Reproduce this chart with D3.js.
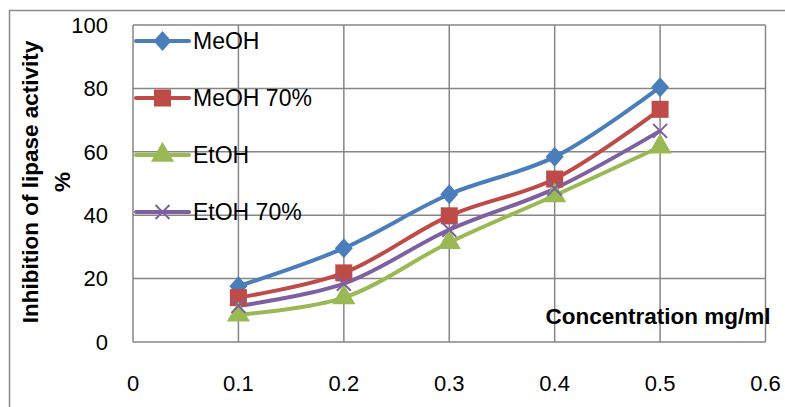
<!DOCTYPE html>
<html>
<head>
<meta charset="utf-8">
<script src="https://cdn.jsdelivr.net/npm/d3@7"></script>
<style>
  body { margin: 0; background: #fff; }
  text { font-family: "Liberation Sans", Arial, sans-serif; }
</style>
</head>
<body>
<div id="chart"></div>
<script>
// data
const concentrations = [0.1, 0.2, 0.3, 0.4, 0.5];
const seriesNames = ["MeOH", "MeOH 70%", "EtOH", "EtOH 70%"];
const meoh = [17.6, 29.6, 46.6, 58.4, 80.4];
const meoh70 = [14.0, 21.8, 39.8, 51.4, 73.4];
const etoh = [8.6, 14.0, 31.4, 46.2, 61.6];
const etoh70 = [11.4, 18.4, 35.4, 48.4, 66.6];
const xTicks = [0, 0.1, 0.2, 0.3, 0.4, 0.5, 0.6];
const yTicks = [0, 20, 40, 60, 80, 100];

const colors = ["#4a7ebb", "#be4b48", "#98b954", "#7d60a0"];
const symbols = ["diamond", "square", "triangle", "cross"];

const W = 785, H = 407;
const margin = { top: 25, right: 20, bottom: 65, left: 133 },
      width = 765.5 - margin.left,
      height = 342 - margin.top;

const svg = d3.select("#chart")
    .append("svg")
    .attr("width", W)
    .attr("height", H);

// khung ngoài (bị cắt ở phải / dưới)
svg.append("rect")
    .attr("x", 9.5).attr("y", 10.5)
    .attr("width", W + 10).attr("height", H + 10)
    .attr("fill", "none")
    .attr("stroke", "#8c8c8c")
    .attr("stroke-width", 1.5);

const g = svg.append("g")
    .attr("transform", `translate(${margin.left},${margin.top})`);

const x = d3.scaleLinear().domain([0, 0.6]).range([0, width]);
const y = d3.scaleLinear().domain([0, 100]).range([height, 0]);

// lưới
g.selectAll(".vgrid")
    .data(xTicks)
    .enter().append("line")
    .attr("x1", d => x(d)).attr("x2", d => x(d))
    .attr("y1", 0).attr("y2", height)
    .attr("stroke", "#868686").attr("stroke-width", 1.5);

g.selectAll(".hgrid")
    .data(yTicks)
    .enter().append("line")
    .attr("x1", 0).attr("x2", width)
    .attr("y1", d => y(d)).attr("y2", d => y(d))
    .attr("stroke", "#868686").attr("stroke-width", 1.5);

// nhãn trục
g.selectAll(".ylab")
    .data(yTicks)
    .enter().append("text")
    .attr("x", -25)
    .attr("y", d => y(d))
    .attr("dy", "0.35em")
    .attr("text-anchor", "end")
    .style("font-size", "22px")
    .text(d => d);

g.selectAll(".xlab")
    .data(xTicks)
    .enter().append("text")
    .attr("x", d => x(d))
    .attr("y", height + 41)
    .attr("dy", "0.35em")
    .attr("text-anchor", "middle")
    .style("font-size", "22px")
    .text(d => d);

// các đường
const allSeries = [meoh, meoh70, etoh, etoh70];
const line = d3.line()
    .x((d, i) => x(concentrations[i]))
    .y(d => y(d))
    .curve(d3.curveCatmullRom.alpha(0.5));

const symbolSizes = [200, 290, 230, 170];

function marker(sel, i) {
    if (symbols[i] === "cross") {
        sel.append("path")
            .attr("d", "M-7,-7L7,7M-7,7L7,-7")
            .attr("stroke", colors[i])
            .attr("stroke-width", 2)
            .attr("fill", "none");
    } else if (symbols[i] === "diamond") {
        sel.append("path")
            .attr("d", "M0,-10L9,0L0,10L-9,0Z")
            .attr("fill", colors[i]);
    } else {
        const sym = symbols[i] === "square" ? d3.symbolSquare : d3.symbolTriangle;
        sel.append("path")
            .attr("d", d3.symbol().type(sym).size(symbolSizes[i])())
            .attr("fill", colors[i]);
    }
}

allSeries.forEach((vals, i) => {
    g.append("path")
        .datum(vals)
        .attr("fill", "none")
        .attr("stroke", colors[i])
        .attr("stroke-width", 4)
        .attr("stroke-linejoin", "round")
        .attr("d", line);
});
allSeries.forEach((vals, i) => {
    vals.forEach((v, j) => {
        const m = g.append("g")
            .attr("transform", `translate(${x(concentrations[j])},${y(v)})`);
        marker(m, i);
    });
});

// chú thích
const legend = g.append("g").attr("transform", "translate(3,16)");
seriesNames.forEach((name, i) => {
    const row = legend.append("g").attr("transform", `translate(0,${i * 57})`);
    row.append("line")
        .attr("x1", 0).attr("x2", 53)
        .attr("stroke", colors[i]).attr("stroke-width", 4)
        .attr("stroke-linecap", "round");
    const m = row.append("g").attr("transform", "translate(26.5,0)");
    marker(m, i);
    row.append("text")
        .attr("x", 57)
        .attr("dy", "0.35em")
        .style("font-size", "23px")
        .text(name);
});

// tiêu đề trục
g.append("text")
    .attr("x", width + 5)
    .attr("y", height - 26)
    .attr("dy", "0.35em")
    .attr("text-anchor", "end")
    .style("font-size", "22.5px")
    .style("font-weight", "bold")
    .text("Concentration mg/ml");

const yTitle = svg.append("text")
    .attr("transform", "translate(30,182) rotate(-90)")
    .attr("text-anchor", "middle")
    .style("font-size", "22.5px")
    .style("font-weight", "bold");
yTitle.append("tspan").attr("x", 0).attr("dy", "0.35em").text("Inhibition of lipase activity");
yTitle.append("tspan").attr("x", 0).attr("dy", "1.42em").text("%");
</script>
</body>
</html>
